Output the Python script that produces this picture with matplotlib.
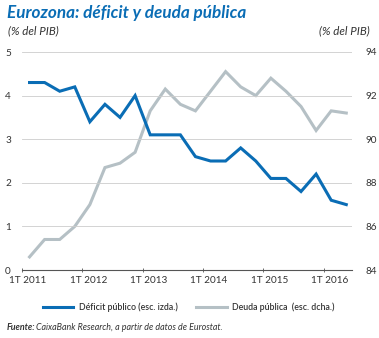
import numpy as np
import matplotlib
matplotlib.use("Agg")
import matplotlib.pyplot as plt

# quarterly data 1T 2011 .. 2T 2016
deficit = [4.3, 4.3, 4.1, 4.2, 3.4, 3.8, 3.5, 4.0, 3.1, 3.1, 3.1, 2.6,
           2.5, 2.5, 2.8, 2.5, 2.1, 2.1, 1.8, 2.2, 1.6, 1.5]
deuda = [84.6, 85.4, 85.4, 86.0, 87.0, 88.7, 88.9, 89.4, 91.3, 92.3, 91.6, 91.3,
         92.2, 93.1, 92.4, 92.0, 92.8, 92.2, 91.5, 90.4, 91.3, 91.2]
years = [2011, 2012, 2013, 2014, 2015, 2016]
year_labels = ["1T 2011", "1T 2012", "1T 2013", "1T 2014", "1T 2015", "1T 2016"]

blue = "#0a6db5"
grey = "#b5c0c5"
txt = "#333333"

plt.rcParams['font.family'] = ['Lato', 'DejaVu Sans']

x = 2011.125 + np.arange(len(deficit)) / 4.0

fig = plt.figure(figsize=(3.79, 3.38), dpi=100)
ax1 = fig.add_axes([22/379, 68/338, 330/379, 218/338])
ax2 = ax1.twinx()

ax1.set_zorder(ax2.get_zorder() + 1)
ax1.patch.set_visible(False)

ax2.plot(x, deuda, color=grey, lw=2.2, solid_joinstyle='miter')
ax1.plot(x, deficit, color=blue, lw=2.2, solid_joinstyle='miter')

ax1.set_xlim(2011, 2016.47)
ax1.set_ylim(0, 5)
ax2.set_ylim(84, 94)
ax1.set_yticks([0, 1, 2, 3, 4, 5])
ax2.set_yticks([84, 86, 88, 90, 92, 94])
# tick marks at the start of each year, labels centred on the first quarter
ax1.set_xticks(years)
ax1.set_xticklabels([])
ax1.set_xticks([y + 0.1 for y in years], minor=True)
ax1.set_xticklabels(year_labels, minor=True)

for a in (ax1, ax2):
    for s in a.spines.values():
        s.set_visible(False)
ax1.spines['bottom'].set_visible(True)
ax1.spines['bottom'].set_color("#555555")
ax1.spines['bottom'].set_linewidth(0.8)

ax1.grid(axis='y', color="#cccccc", lw=0.6)
ax1.set_axisbelow(True)
ax1.tick_params(axis='y', length=0, labelsize=7.2, colors=txt, pad=8)
ax2.tick_params(axis='y', length=0, labelsize=7.2, colors=txt, pad=10)
ax1.tick_params(axis='x', which='major', length=3, width=0.6, color="#555555",
                direction='inout')
ax1.tick_params(axis='x', which='minor', length=0, labelsize=7.2,
                labelcolor=txt, pad=4)

fig.text(7/379, 1 - 13/338, "Eurozona: déficit y deuda pública", color=blue,
         fontsize=12.3, fontweight='bold', fontstyle='italic', va='center')
fig.text(8/379, 1 - 31/338, "(% del PIB)", color=txt, fontsize=8.3,
         fontstyle='italic', va='center')
fig.text(370/379, 1 - 31/338, "(% del PIB)", color=txt, fontsize=8.3,
         fontstyle='italic', va='center', ha='right')

# legend
fig.lines.append(plt.Line2D([43/379, 73/379], [1 - 307/338] * 2, color=blue,
                            lw=2.2, transform=fig.transFigure))
fig.text(79/379, 1 - 307/338, "Déficit público (esc. izda.)", color=txt,
         fontsize=6.3, fontweight='semibold', va='center')
fig.lines.append(plt.Line2D([196/379, 227/379], [1 - 307/338] * 2, color=grey,
                            lw=2.2, transform=fig.transFigure))
fig.text(232/379, 1 - 307/338, "Deuda pública  (esc. dcha.)", color=txt,
         fontsize=6.3, fontweight='semibold', va='center')

# source
t = fig.text(7/379, 1 - 328/338, "Fuente:", color=txt, fontsize=6.4,
             fontweight='bold', fontstyle='italic', va='center')
fig.canvas.draw()
bb = t.get_window_extent()
fig.text(bb.x1 / fig.bbox.width + 1/379, 1 - 328/338,
         "CaixaBank Research, a partir de datos de Eurostat.", color=txt,
         fontsize=6.4, fontstyle='italic', va='center')

fig.savefig("out.png", dpi=100)
